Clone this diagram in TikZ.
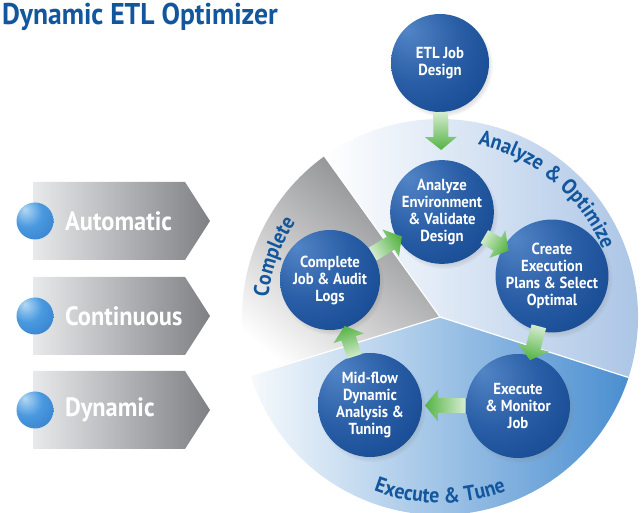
\documentclass[tikz,border=0pt]{standalone}
\usepackage{fontspec}
\setmainfont{PT Sans}[FakeStretch=0.92]
\usetikzlibrary{shadings,shadows,decorations.text,calc}
\definecolor{titleblue}{HTML}{12579D}
\definecolor{sphhi}{HTML}{5285C6}
\definecolor{sphmid}{HTML}{2A5EA6}
\definecolor{sphdark}{HTML}{0E438A}
\definecolor{agreen}{HTML}{55B343}
\definecolor{secA}{HTML}{A5C1E4}
\definecolor{secE}{HTML}{4A8ED0}
\definecolor{secC}{HTML}{858688}
\definecolor{chevL}{HTML}{E8E9EB}
\definecolor{chevR}{HTML}{7E8083}
\definecolor{dothi}{HTML}{B4D8F4}
\definecolor{dotmid}{HTML}{4A9AE0}
\definecolor{dotdark}{HTML}{2A6FBF}
\pgfdeclareradialshading{sphere}{\pgfpoint{-17bp}{17bp}}{color(0bp)=(sphhi); color(22bp)=(sphmid); color(48bp)=(sphdark); color(80bp)=(sphdark)}
\pgfdeclareradialshading{bluedotshade}{\pgfpoint{-14bp}{16bp}}{color(0bp)=(dothi); color(20bp)=(dotmid); color(55bp)=(dotdark); color(80bp)=(dotdark)}
\newcommand\arcfont{\bfseries\fontsize{21.5}{21.5}\selectfont}
\newcommand\grarrow[4]{%
  \pgfmathanglebetweenpoints{\pgfpointanchor{#1}{center}}{\pgfpointanchor{#2}{center}}%
  \let\gra\pgfmathresult
  \pgfmathsetmacro\grb{\gra-90}%
  \begin{scope}[shift={(#1.center)}, rotate=\gra]
    \shade[top color=agreen, bottom color=agreen!25!white, shading angle=\grb]
      (#3,-7.5) -- (#4-13,-7.5) -- (#4-13,-16) -- (#4,0) -- (#4-13,16) -- (#4-13,7.5) -- (#3,7.5) -- cycle;
  \end{scope}}
\tikzset{
  sphnode/.style={circle, minimum size=100pt, inner sep=0pt, shading=sphere, text=white,
    font=\bfseries\fontsize{16}{17}\selectfont, align=center,
    circular drop shadow={shadow xshift=2pt, shadow yshift=-3pt, opacity=0.35, shadow scale=1.04}},
  chev/.style={left color=chevL, right color=chevR},
  chevtext/.style={text=white, font=\bfseries\fontsize{26.5}{26.5}\selectfont, anchor=west, inner sep=0pt},
  bluedot/.style={circle, minimum size=37pt, inner sep=0pt, shading=bluedotshade},
  divline/.style={white, line width=1.2pt},
  arclabel/.style={decorate, decoration={text along path, text color=titleblue, text align=center}}
}
\begin{document}
\begin{tikzpicture}[x=1pt,y=1pt]
\useasboundingbox (0,0) rectangle (641,513);
\coordinate (C0) at (440,196);
% sectors
\shade[left color=white, right color=secA] (C0) -- ++(342.2:198) arc[start angle=342.2, end angle=485.7, radius=198] -- cycle;
\shade[left color=white!95!secE, right color=secE] (C0) -- ++(197.2:198) arc[start angle=197.2, end angle=342.2, radius=198] -- cycle;
\shade[top color=secC, bottom color=white, shading angle=-40] (C0) -- ++(125.7:198) arc[start angle=125.7, end angle=197.2, radius=198] -- cycle;
\draw[divline] (C0) -- ++(125.7:198);
\draw[divline] (C0) -- ++(197.2:198);
\draw[divline] (C0) -- ++(342.2:198);
% curved labels
\path[arclabel, decoration={text={|\arcfont|Analyze {\&} Optimize}}] ($(C0)+(100:176)$) arc[start angle=100, end angle=0, radius=176];
\path[arclabel, decoration={text={|\arcfont|Complete}}] ($(C0)+(205:173)$) arc[start angle=205, end angle=115, radius=173];
\path[arclabel, decoration={text={|\arcfont|Execute {\&} Tune}}] ($(C0)+(225:186)$) arc[start angle=225, end angle=315, radius=186];
% title
\node[anchor=base west, font=\bfseries\fontsize{30}{30}\selectfont, text=titleblue, inner sep=0pt] (title) at (2,488) {Dynamic ETL Optimizer};
% chevrons
\foreach \cy/\nm/\txt in {292/a/Automatic, 197/b/Continuous, 103/c/Dynamic}{
  \shade[chev] (33,\cy-39) -- (185,\cy-39) -- (210,\cy) -- (185,\cy+39) -- (33,\cy+39) -- cycle;
  \node[bluedot] (dot\nm) at (35,\cy) {};
  \node[chevtext] (lab\nm) at (65,\cy) {\txt};
}
% spheres
\node[sphnode, minimum size=98pt] (etl) at (440,450) {ETL Job\\Design};
\node[sphnode, minimum size=98pt] (ana) at (442,301) {Analyze\\Environment\\\& Validate\\Design};
\node[sphnode, minimum size=104pt] (cre) at (552,237) {Create\\Execution\\Plans \& Select\\Optimal};
\node[sphnode, minimum size=104pt] (exe) at (518,107) {Execute\\\& Monitor\\Job};
\node[sphnode, minimum size=104pt] (mid) at (370,108) {Mid-flow\\Dynamic\\Analysis \&\\Tuning};
\node[sphnode] (com) at (330,233) {Complete\\Job \& Audit\\Logs};
% green arrows
\grarrow{etl}{ana}{49}{87}
\grarrow{com}{ana}{50}{84}
\grarrow{ana}{cre}{49}{77}
\grarrow{cre}{exe}{52}{87}
\grarrow{exe}{mid}{53}{93}
\grarrow{mid}{com}{51}{83}
\end{tikzpicture}
\end{document}
